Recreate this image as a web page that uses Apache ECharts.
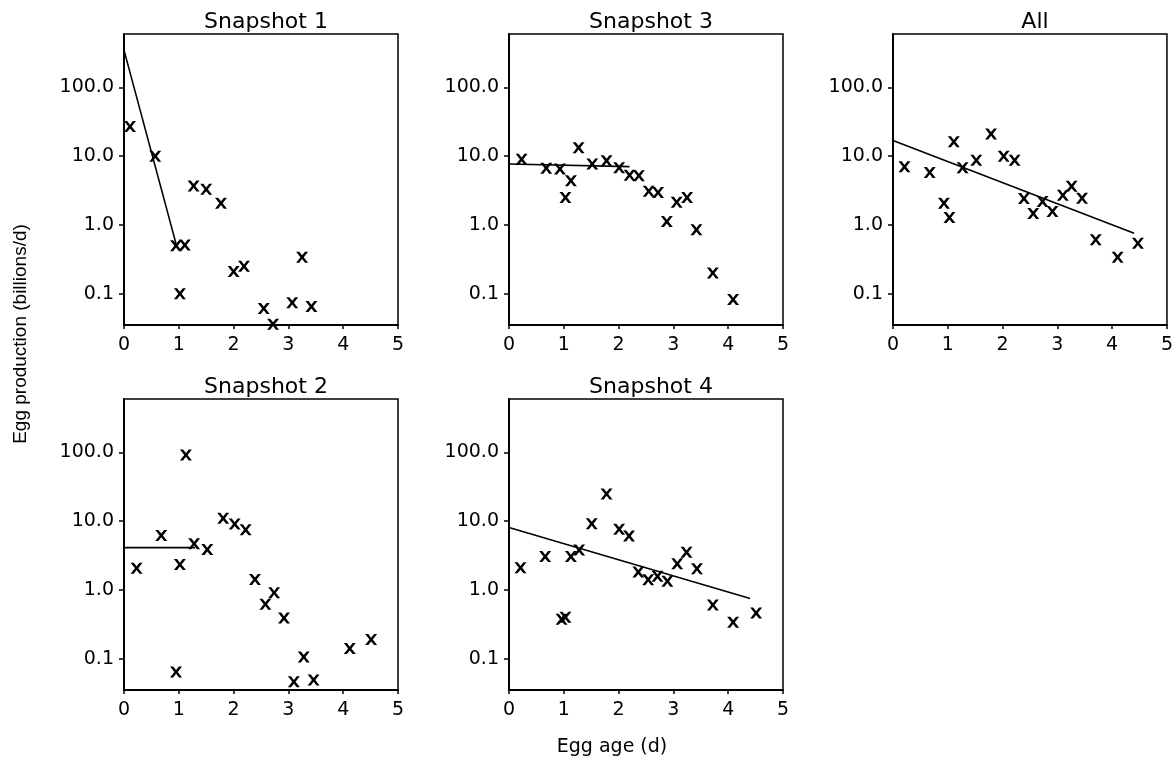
<!DOCTYPE html>
<html>
<head>
<meta charset="utf-8">
<title>Egg production vs egg age</title>
<script src="https://cdn.jsdelivr.net/npm/echarts@6/dist/echarts.min.js"></script>
<style>
  html, body { margin: 0; padding: 0; background: #ffffff; }
  #chart { width: 1176px; height: 761px; }
</style>
</head>
<body>
<div id="chart"></div>
<script>
// Panel headings, in drawing order
const panelTitles = ['Snapshot 1', 'Snapshot 3', 'All', 'Snapshot 2', 'Snapshot 4'];

// Axis ticks
const ageTicks = [0, 1, 2, 3, 4, 5];
const eggTicks = [0.1, 1, 10, 100];

// Observations: [egg age (d), egg production (billions/d)]
const snap1Points = [
  [0.11, 27], [0.57, 10.0], [0.95, 0.50], [1.11, 0.51], [1.02, 0.10],
  [1.27, 3.7], [1.50, 3.3], [1.77, 2.07], [2.00, 0.21], [2.19, 0.25],
  [2.55, 0.061], [2.72, 0.036], [3.07, 0.074], [3.25, 0.34], [3.42, 0.065]
];
const snap3Points = [
  [0.23, 9.0], [0.68, 6.7], [0.93, 6.5], [1.03, 2.5], [1.13, 4.4],
  [1.27, 13.3], [1.52, 7.7], [1.78, 8.6], [2.01, 6.8], [2.20, 5.3],
  [2.37, 5.2], [2.55, 3.1], [2.72, 2.96], [2.88, 1.12], [3.06, 2.14],
  [3.25, 2.5], [3.42, 0.85], [3.72, 0.20], [4.09, 0.082]
];
const allPoints = [
  [0.21, 7.0], [0.67, 5.8], [0.93, 2.07], [1.03, 1.28], [1.11, 16.2],
  [1.27, 6.8], [1.52, 8.7], [1.79, 21.1], [2.02, 10.0], [2.22, 8.7],
  [2.39, 2.42], [2.56, 1.47], [2.73, 2.19], [2.91, 1.57], [3.10, 2.7],
  [3.26, 3.65], [3.45, 2.45], [3.70, 0.61], [4.10, 0.34], [4.47, 0.54]
];
const snap2Points = [
  [0.23, 2.07], [0.68, 6.2], [0.95, 0.064], [1.02, 2.34], [1.13, 92],
  [1.28, 4.7], [1.52, 3.87], [1.81, 11.0], [2.02, 9.1], [2.22, 7.5],
  [2.39, 1.42], [2.58, 0.62], [2.74, 0.91], [2.92, 0.39], [3.10, 0.046],
  [3.28, 0.106], [3.46, 0.049], [4.12, 0.14], [4.51, 0.19]
];
const snap4Points = [
  [0.21, 2.1], [0.66, 3.06], [0.96, 0.376], [1.03, 0.40], [1.13, 3.06],
  [1.28, 3.8], [1.51, 9.2], [1.78, 24.9], [2.01, 7.65], [2.19, 6.1],
  [2.36, 1.82], [2.54, 1.41], [2.71, 1.58], [2.89, 1.34], [3.07, 2.4],
  [3.24, 3.53], [3.43, 2.04], [3.72, 0.605], [4.09, 0.34], [4.51, 0.46]
];

// Fitted lines: end points [egg age, egg production]
const snap1Fit = [[0, 350], [0.95, 0.53]];
const snap3Fit = [[0, 7.7], [2.20, 7.06]];
const allFit = [[0, 16.9], [4.40, 0.76]];
const snap2Fit = [[0, 4.13], [1.30, 4.13]];
const snap4Fit = [[0, 8.1], [4.40, 0.75]];

const panelPoints = [snap1Points, snap3Points, allPoints, snap2Points, snap4Points];
const panelFits = [snap1Fit, snap3Fit, allFit, snap2Fit, snap4Fit];

// Page layout of the five plot boxes
const boxLefts = [124, 509, 893, 124, 509];
const boxTops = [34, 34, 34, 399, 399];
const boxWidth = 274;
const boxHeight = 291;

const FONT = 'DejaVu Sans';
const INK = '#000000';

// "x" marker
const crossMark = 'path://M0,0 L2.6,0 L5,3.3 L7.4,0 L10,0 L6.4,5 L10,10 L7.4,10 L5,6.7 L2.6,10 L0,10 L3.6,5 Z';

const grids = [], xAxes = [], yAxes = [], series = [], titles = [];

panelTitles.forEach(function (name, i) {
  grids.push({
    left: boxLefts[i], top: boxTops[i], width: boxWidth, height: boxHeight,
    show: true, borderColor: INK, borderWidth: 1.5, backgroundColor: 'transparent'
  });
  xAxes.push({
    gridIndex: i, type: 'value', min: 0, max: 5, interval: 1,
    axisLine: { show: true, onZero: false, lineStyle: { color: INK, width: 2 } },
    axisTick: { show: true, inside: false, length: 4, lineStyle: { color: INK, width: 1.5 } },
    axisLabel: {
      color: INK, fontFamily: FONT, fontSize: 19, margin: 11,
      formatter: function (v) { return ageTicks.indexOf(v) >= 0 ? String(v) : ''; }
    },
    splitLine: { show: false }
  });
  yAxes.push({
    gridIndex: i, type: 'log', logBase: 10, min: 0.035, max: 600,
    axisLine: { show: true, onZero: false, lineStyle: { color: INK, width: 2 } },
    axisTick: { show: true, inside: false, length: 5, customValues: eggTicks,
      lineStyle: { color: INK, width: 1.5 } },
    axisLabel: {
      color: INK, fontFamily: FONT, fontSize: 19, margin: 10, customValues: eggTicks,
      formatter: function (v) { return Number(v).toFixed(1); }
    },
    splitLine: { show: false },
    minorTick: { show: false }
  });
  titles.push({
    text: name,
    left: boxLefts[i] + boxWidth / 2,
    top: boxTops[i] - 28,
    textAlign: 'center',
    textStyle: { color: INK, fontFamily: FONT, fontSize: 22, fontWeight: 'normal' }
  });
  series.push({
    type: 'line', xAxisIndex: i, yAxisIndex: i,
    data: panelFits[i], showSymbol: false, symbol: 'none',
    lineStyle: { color: INK, width: 1.6 }, silent: true, z: 2
  });
  series.push({
    type: 'scatter', xAxisIndex: i, yAxisIndex: i,
    data: panelPoints[i], symbol: crossMark, symbolSize: [12, 11],
    itemStyle: { color: INK, opacity: 1 }, clip: false, silent: true, z: 3
  });
});

const chart = echarts.init(document.getElementById('chart'), null, { renderer: 'canvas' });
chart.setOption({
  backgroundColor: '#ffffff',
  animation: false,
  title: titles,
  grid: grids,
  xAxis: xAxes,
  yAxis: yAxes,
  series: series,
  graphic: [
    {
      type: 'text', x: 21, y: 334, rotation: Math.PI / 2,
      style: { text: 'Egg production (billions/d)', fill: INK, font: '19px "Liberation Sans"',
        align: 'center', verticalAlign: 'middle' }
    },
    {
      type: 'text', x: 612, y: 747,
      style: { text: 'Egg age (d)', fill: INK, font: '19px "DejaVu Sans"',
        align: 'center', verticalAlign: 'middle' }
    }
  ]
});
</script>
</body>
</html>
